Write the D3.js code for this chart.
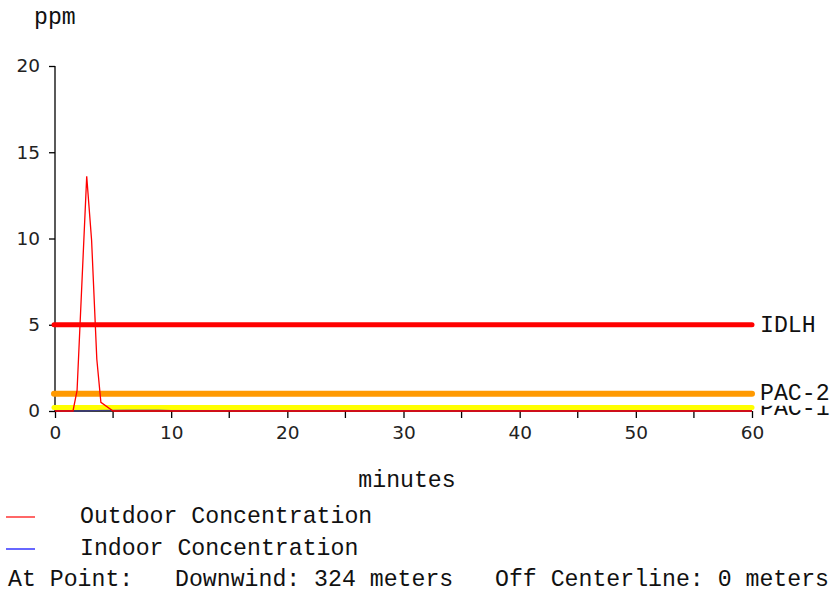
<!DOCTYPE html>
<html lang="en">
<head>
  <meta charset="UTF-8">
  <title>Concentration at point</title>
  <script src="https://d3js.org/d3.v7.min.js"></script>
  <style>
    body { margin: 0; background: #fff; }
    svg { display: block; }
    .mono { font-family: "Liberation Mono", "Courier New", monospace; fill: #111; }
    .tick text { font-family: "DejaVu Sans", Verdana, sans-serif; fill: #222; }
  </style>
</head>
<body>
  <div id="chart"></div>
  <script>
    // Outdoor concentration (minutes, ppm)
    const outdoorMin = [0, 1.55, 1.9, 2.73, 3.15, 3.6, 3.95, 5.0, 60];
    const outdoorPpm = [0, 0, 1.2, 13.6, 9.9, 3.0, 0.5, 0, 0];

    // Indoor concentration (minutes, ppm)
    const indoorMin = [0, 2.5, 4, 6, 9, 10, 30, 32, 57, 60];
    const indoorPpm = [0, 0, 0.04, 0.06, 0.06, 0.03, 0.02, 0, 0, 0];

    // Threshold levels of concern
    const levelNames = ["IDLH", "PAC-2", "PAC-1"];
    const levelValues = [5, 1, 0.2];
    const levelColors = ["#ff0000", "#ff9900", "#ffff00"];

    const xTicks = [0, 10, 20, 30, 40, 50, 60];
    const xMinorTicks = [5, 15, 25, 35, 45, 55];
    const yTicks = [0, 5, 10, 15, 20];

    const width = 836, height = 590;
    const plotLeft = 55, plotRight = 752, plotTop = 66, plotBottom = 411;

    const x = d3.scaleLinear().domain([0, 60]).range([plotLeft, plotRight]);
    const y = d3.scaleLinear().domain([0, 20]).range([plotBottom, plotTop]);

    const svg = d3.select("#chart").append("svg")
      .attr("width", width).attr("height", height);

    // y axis
    const yAxis = svg.append("g")
      .attr("transform", `translate(${plotLeft},0)`)
      .call(d3.axisLeft(y).tickValues(yTicks).tickSize(6).tickPadding(9));
    yAxis.selectAll("text").attr("font-size", 18.5);

    // x axis
    const xAxis = svg.append("g")
      .attr("transform", `translate(0,${plotBottom})`)
      .call(d3.axisBottom(x).tickValues(xTicks).tickSize(7).tickPadding(8));
    xAxis.selectAll("text").attr("font-size", 18.5);
    xAxis.selectAll(".minor")
      .data(xMinorTicks).enter().append("line")
      .attr("class", "minor")
      .attr("x1", d => x(d)).attr("x2", d => x(d))
      .attr("y1", 0).attr("y2", 7)
      .attr("stroke", "#000");

    svg.selectAll(".domain").attr("stroke", "#000").attr("stroke-width", 1.3);
    svg.selectAll(".tick line").attr("stroke", "#000").attr("stroke-width", 1.3);
    xAxis.selectAll("line").attr("stroke-width", 1.3);
    xAxis.select(".domain").attr("d", `M${plotLeft},0H${plotRight}`);
    yAxis.select(".domain").attr("d", `M0,${plotTop}V${plotBottom}`);

    // threshold lines
    const widths = [5, 6, 5];
    svg.selectAll(".level")
      .data(levelValues).enter().append("line")
      .attr("class", "level")
      .attr("x1", x(0) - 1).attr("x2", x(60))
      .attr("y1", d => y(d)).attr("y2", d => y(d))
      .attr("stroke", (d, i) => levelColors[i])
      .attr("stroke-width", (d, i) => widths[i])
      .attr("stroke-linecap", "round");

    // indoor + outdoor curves
    const line = d3.line().x(d => x(d[0])).y(d => y(d[1]));
    svg.append("path")
      .datum(indoorMin.map((m, i) => [m, indoorPpm[i]]))
      .attr("d", line).attr("fill", "none")
      .attr("stroke", "#3333cc").attr("stroke-width", 1).attr("opacity", 0.6);
    svg.append("path")
      .datum(outdoorMin.map((m, i) => [m, outdoorPpm[i]]))
      .attr("d", line).attr("fill", "none")
      .attr("stroke", "#ff0000").attr("stroke-width", 1.3);

    // level labels: PAC-1 first, PAC-2 on a white box masks its top
    const fs = 23.2;
    const labelBase = [y(5) + 7, y(1) + 6, 415];
    [2, 1, 0].forEach(i => {
      if (i !== 2) {
        svg.append("rect")
          .attr("x", 757).attr("y", labelBase[i] - 16)
          .attr("width", 79).attr("height", 22)
          .attr("fill", "#fff");
      }
      svg.append("text").attr("class", "mono")
        .attr("x", 760).attr("y", labelBase[i])
        .attr("font-size", fs)
        .text(levelNames[i]);
    });

    // titles
    svg.append("text").attr("class", "mono")
      .attr("x", 34).attr("y", 24).attr("font-size", fs).text("ppm");
    svg.append("text").attr("class", "mono")
      .attr("x", 407).attr("y", 487).attr("text-anchor", "middle")
      .attr("font-size", fs).text("minutes");

    // legend
    const legendNames = ["Outdoor Concentration", "Indoor Concentration"];
    const legendColors = ["#ff0000", "#0000ff"];
    const legendY = [517, 549];
    legendNames.forEach((n, i) => {
      svg.append("line")
        .attr("x1", 6).attr("x2", 35)
        .attr("y1", legendY[i]).attr("y2", legendY[i])
        .attr("stroke", legendColors[i]).attr("stroke-width", 1.2);
      svg.append("text").attr("class", "mono")
        .attr("x", 80).attr("y", legendY[i] + 6)
        .attr("font-size", fs).text(n);
    });

    svg.append("text").attr("class", "mono")
      .attr("x", 8).attr("y", 586).attr("font-size", fs)
      .attr("xml:space", "preserve").style("white-space", "pre")
      .text("At Point:   Downwind: 324 meters   Off Centerline: 0 meters");
  </script>
</body>
</html>
